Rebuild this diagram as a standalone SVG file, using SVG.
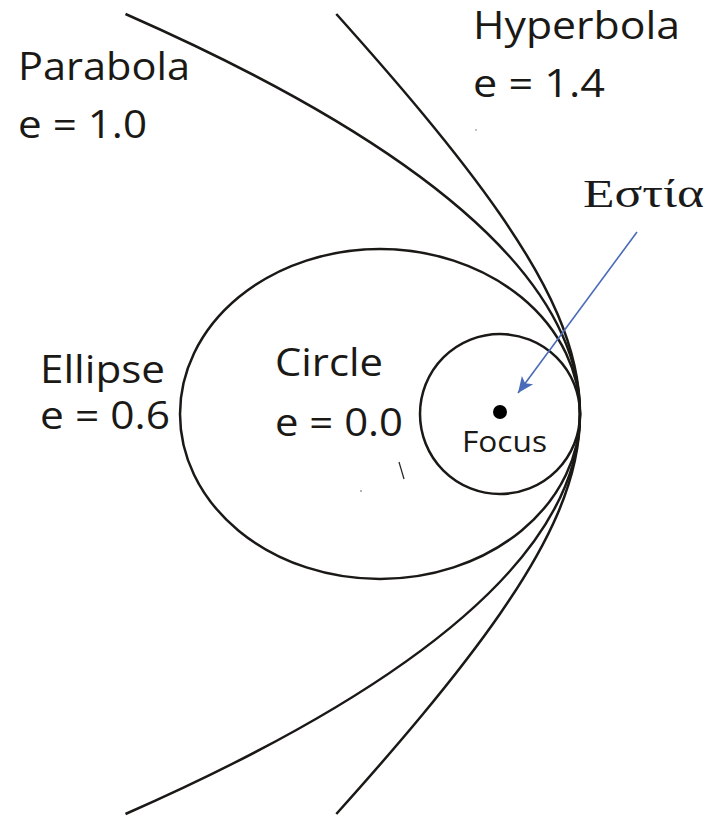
<svg xmlns="http://www.w3.org/2000/svg" width="712" height="822" viewBox="0 0 712 822">
<defs>
<style>
.curve{fill:none;stroke:#1b1916;stroke-width:2.5}
.lbl{font-family:"Open Sans","Noto Sans","Liberation Sans",sans-serif;font-size:38px;fill:#1b1916}
.greek{font-family:"Liberation Serif","DejaVu Serif",serif;font-size:40px;fill:#1a1a1a}
</style>
<marker id="ah" markerUnits="userSpaceOnUse" markerWidth="20" markerHeight="20" viewBox="0 0 20 20" refX="18" refY="10" orient="auto">
<path d="M2,3 L18,10 L2,17 L6,10 Z" fill="#4a6bb8"/>
</marker>
</defs>
<rect width="712" height="822" fill="#fff"/>
<g id="parabola"><path class="curve" d="M125.5,14 Q1034.5,414 125.5,814"/></g>
<g id="hyperbola"><path class="curve" d="M336.3,14 C366.2,47.33 395.4,80.67 423,114 C450.6,147.33 476.8,180.67 499.9,214 C523,247.33 543.2,280.67 557.5,314 C571.8,347.33 580,380.67 580,414 C580,447.33 571.8,480.67 557.5,514 C543.2,547.33 523,580.67 499.9,614 C476.8,647.33 450.6,680.67 423,714 C395.4,747.33 366.2,780.67 336.3,814"/></g>
<g id="ellipse"><ellipse class="curve" cx="380" cy="414" rx="200" ry="165"/></g>
<g id="circle"><circle class="curve" cx="500" cy="414" r="80"/></g>
<g id="focus"><circle cx="500" cy="412" r="7" fill="#000"/>
<text class="lbl" x="462" y="452" style="font-size:30px" textLength="85" lengthAdjust="spacingAndGlyphs">Focus</text></g>
<g id="labels">
<text class="lbl" x="18" y="80" textLength="172" lengthAdjust="spacingAndGlyphs">Parabola</text>
<text class="lbl" x="18" y="138" textLength="129" lengthAdjust="spacingAndGlyphs">e = 1.0</text>
<text class="lbl" x="473" y="39" textLength="207" lengthAdjust="spacingAndGlyphs">Hyperbola</text>
<text class="lbl" x="473" y="97" textLength="132" lengthAdjust="spacingAndGlyphs">e = 1.4</text>
<text class="lbl" x="40" y="383" textLength="125" lengthAdjust="spacingAndGlyphs">Ellipse</text>
<text class="lbl" x="40" y="429" textLength="130" lengthAdjust="spacingAndGlyphs">e = 0.6</text>
<text class="lbl" x="275" y="376" textLength="108" lengthAdjust="spacingAndGlyphs">Circle</text>
<text class="lbl" x="275" y="436" textLength="128" lengthAdjust="spacingAndGlyphs">e = 0.0</text>
</g>
<g id="estia"><text class="greek" x="583" y="207" textLength="121" lengthAdjust="spacingAndGlyphs">Εστία</text></g>
<g id="connectors">
<line x1="637" y1="232" x2="518" y2="393" stroke="#4a6bb8" stroke-width="1.6" marker-end="url(#ah)"/>
</g>
<g id="marks" fill="none" stroke="#222" stroke-width="1.2">
<path d="M399,462 L404,479"/>
<circle cx="361" cy="491" r="0.8" fill="#555" stroke="none"/>
<circle cx="476" cy="130" r="0.8" fill="#777" stroke="none"/>
</g>
</svg>
